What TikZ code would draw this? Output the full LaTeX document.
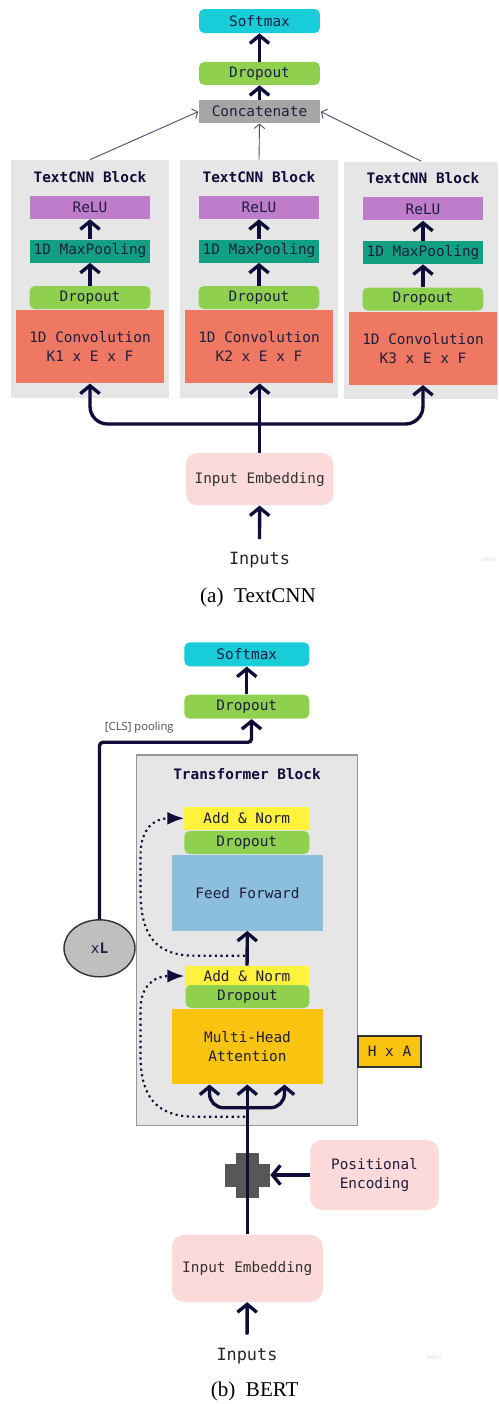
\documentclass[tikz,border=0pt]{standalone}
\usepackage{fontspec}
\setmainfont{Liberation Serif}
\setmonofont{DejaVu Sans Mono}
\newfontfamily\labelsans{Open Sans}
\usepackage{tikz}
\usetikzlibrary{calc,arrows.meta,shapes.geometric}
\definecolor{navyInk}{RGB}{14,12,56}
\definecolor{labelInk}{RGB}{30,30,62}
\definecolor{softCyan}{RGB}{24,204,216}
\definecolor{dropGreen}{RGB}{143,209,79}
\definecolor{concatGray}{RGB}{166,166,166}
\definecolor{blockGray}{RGB}{230,230,230}
\definecolor{reluPurple}{RGB}{190,124,202}
\definecolor{poolTeal}{RGB}{18,160,131}
\definecolor{convCoral}{RGB}{238,120,98}
\definecolor{embPink}{RGB}{252,218,218}
\definecolor{normYellow}{RGB}{255,242,60}
\definecolor{ffBlue}{RGB}{139,191,221}
\definecolor{attnOrange}{RGB}{249,195,15}
\definecolor{plusGray}{RGB}{87,87,87}
\definecolor{edgeGray}{RGB}{150,150,150}

\begin{document}
\begin{tikzpicture}[x=0.02cm, y=-0.02cm,
  layer/.style={inner sep=0pt, text=labelInk, align=center, font=\ttfamily\fontsize{8.2}{10.8}\selectfont},
  pill/.style={layer, rounded corners=3pt},
  blocktitle/.style={inner sep=0pt, text=navyInk, font=\ttfamily\bfseries\fontsize{8.2}{10}\selectfont},
  inputs/.style={inner sep=7.5pt, text=black!85, font=\ttfamily\fontsize{9.6}{11}\selectfont},
  caption/.style={inner sep=0pt, font=\fontsize{12}{14}\selectfont},
  watermark/.style={inner sep=0pt, text=black!15, font=\sffamily\fontsize{4}{5}\selectfont},
  flow/.style={navyInk, line width=1.9pt, rounded corners=2pt, -{Straight Barb[length=4.5pt,width=11pt]}},
  feedin/.style={navyInk!75, line width=0.5pt, -{Straight Barb[length=2.5pt,width=6pt]}},
  skip/.style={navyInk, line width=1.2pt, dotted, -{Latex[length=9.5pt,width=7.5pt]}}]
\path[use as bounding box, fill=white] (0,0) rectangle (498,1404);

% (a) TextCNN head
\node[pill, fill=softCyan, minimum width=2.42cm, minimum height=0.48cm] (softA) at (259.5,21) {Softmax};
\node[pill, fill=dropGreen, minimum width=2.42cm, minimum height=0.46cm] (dropA) at (259.5,73.4) {Dropout};
\node[layer, fill=concatGray, minimum width=2.44cm, minimum height=0.46cm] (concat) at (259.5,111.7) {Concatenate};
\draw[flow] (concat) -- (dropA);
\draw[flow] (dropA) -- (softA);

% three TextCNN blocks
\foreach \k/\bx/\ix/\bw/\dy in {1/90/90/3.16cm/0, 2/259/259/3.16cm/0, 3/421.2/423/3.08cm/1.5}{
  \node[fill=blockGray, inner sep=0pt, minimum width=\bw, minimum height=4.76cm] (blk\k) at (\bx,{279+\dy}) {};
  \node[blocktitle] (ttl\k) at (\ix,{176.7+\dy}) {TextCNN Block};
  \node[layer, fill=reluPurple, minimum width=2.42cm, minimum height=0.46cm] (relu\k) at (\ix,{207.4+\dy}) {ReLU};
  \node[layer, fill=poolTeal, minimum width=2.42cm, minimum height=0.46cm] (pool\k) at (\ix,{251+\dy}) {1D MaxPooling};
  \node[pill, fill=dropGreen, minimum width=2.42cm, minimum height=0.46cm] (drop\k) at (\ix,{297.5+\dy}) {Dropout};
  \node[layer, fill=convCoral, minimum width=2.96cm, minimum height=1.46cm] (conv\k) at (\ix,{346.7+\dy}) {1D Convolution\\K\k{} x E x F};
  \draw[flow] (pool\k) -- (relu\k);
  \draw[flow] (drop\k) -- (pool\k);
}
\draw[feedin] (blk1.north) -- (concat.west);
\draw[feedin] (blk2.north) -- (concat.south);
\draw[feedin] (blk3.north) -- (concat.east);

% (a) input side
\node[pill, rounded corners=6pt, fill=embPink, text=black!80, minimum width=2.94cm, minimum height=1.04cm] (embA) at (259.7,479.2) {Input Embedding};
\node[inputs] (inA) at (259.5,560.5) {Inputs};
\coordinate (forkA) at (259.5,424);
\draw[flow] (inA) -- (embA);
\draw[flow] (embA.north) -- (embA.north |- conv2.south);
\draw[flow, rounded corners=10pt] (forkA) -| (conv1.south);
\draw[flow, rounded corners=10pt] (forkA) -| (conv3.south);
\node[watermark] (miroA) at (488,559) {miro};
\node[caption] (capA) at (258,597.7) {(a)~~TextCNN};

% (b) BERT head
\node[pill, fill=softCyan, minimum width=2.5cm, minimum height=0.48cm] (softB) at (246.8,654.3) {Softmax};
\node[pill, fill=dropGreen, minimum width=2.5cm, minimum height=0.48cm] (dropB) at (246.8,706.7) {Dropout};
\draw[flow] (dropB) -- (softB);

% transformer block
\node[draw=edgeGray, line width=0.8pt, fill=blockGray, inner sep=0pt, minimum width=4.41cm, minimum height=7.41cm] (tblock) at (247,940.4) {};
\node[blocktitle] (tttl) at (247,774) {Transformer Block};
\node[layer, fill=normYellow, minimum width=2.5cm, minimum height=0.47cm] (norm1) at (246.8,818.3) {Add \& Norm};
\node[pill, fill=dropGreen, minimum width=2.5cm, minimum height=0.46cm] (drop4) at (246.8,842.5) {Dropout};
\node[layer, fill=ffBlue, minimum width=3.03cm, minimum height=1.51cm] (ffwd) at (247.5,892.8) {Feed Forward};
\node[layer, fill=normYellow, minimum width=2.5cm, minimum height=0.4cm] (norm2) at (247,976) {Add \& Norm};
\node[pill, fill=dropGreen, minimum width=2.48cm, minimum height=0.46cm] (drop5) at (247.5,996.5) {Dropout};
\node[layer, fill=attnOrange, minimum width=3.03cm, minimum height=1.5cm] (mha) at (247.5,1046.7) {Multi-Head\\Attention};
\node[layer, draw=black!80, line width=0.8pt, fill=attnOrange, minimum width=1.26cm, minimum height=0.62cm] (heads) at (389.5,1051.3) {H x A};
\node[ellipse, draw=black!80, line width=0.8pt, fill=black!25, inner sep=0pt, minimum width=1.42cm, minimum height=1.14cm, text=labelInk, font=\ttfamily\fontsize{8.2}{10}\selectfont] (layers) at (99.5,948.3) {x\textbf{L}};

% [CLS] pooling out of the stack
\coordinate (clsbend) at (251.5,742.3);
\draw[flow] (layers.north) |- (clsbend) -- (clsbend |- dropB.south);
\node[inner sep=0pt, text=black!70, font=\labelsans\fontsize{6.4}{7.5}\selectfont] (clslbl) at (139.3,727.7) {[CLS] pooling};

% residual connections
\coordinate (res1) at (245,955.7);
\coordinate (res2) at (245,1116.7);
\draw[flow] (norm2) -- (ffwd);
\draw[skip] (res1) -- (195,955.7) .. controls (155,955.7) and (140.5,935) .. (140.5,890) -- (140.5,855) .. controls (140.5,828) and (155,818.3) .. (norm1.west);
\draw[skip] (res2) -- (195,1116.7) .. controls (155,1116.7) and (140.5,1095) .. (140.5,1055) -- (140.5,1010) .. controls (140.5,985) and (155,976) .. (norm2.west);

% (b) input side
\node[pill, rounded corners=7pt, fill=embPink, minimum width=2.58cm, minimum height=1.4cm] (posenc) at (374.5,1175) {Positional\\Encoding};
\node[pill, rounded corners=7pt, fill=embPink, text=black!80, minimum width=3.02cm, minimum height=1.34cm] (embB) at (247.3,1268.3) {Input Embedding};
\node[inner sep=0pt, minimum size=0.9cm] (addpos) at (247.5,1175) {};
\fill[plusGray] ($(addpos.center)+(-22.5,-11.5)$) rectangle ($(addpos.center)+(22.5,11.5)$);
\fill[plusGray] ($(addpos.center)+(-11.5,-22.5)$) rectangle ($(addpos.center)+(11.5,22.5)$);
\coordinate (forkB) at (247,1107.7);
\coordinate (mhaL) at ($(mha.south)+(-38,0)$);
\coordinate (mhaR) at ($(mha.south)+(37,0)$);
\draw[flow] (embB.north) -- (embB.north |- mha.south);
\draw[flow, rounded corners=8pt] (forkB) -| (mhaL);
\draw[flow, rounded corners=8pt] (forkB) -| (mhaR);
\draw[flow] (posenc.west) -- (addpos.east);
\node[inputs] (inB) at (247,1356) {Inputs};
\draw[flow] (inB) -- (embB);
\node[watermark] (miroB) at (434,1356.7) {miro};
\node[caption] (capB) at (254.7,1391) {(b)~~BERT};
\end{tikzpicture}
\end{document}
